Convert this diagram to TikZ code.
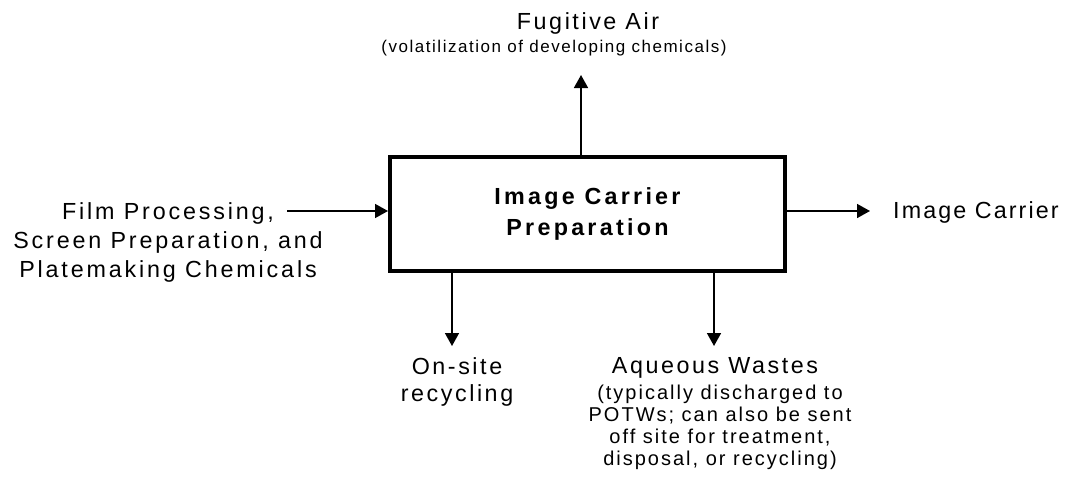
\documentclass[tikz,border=0pt]{standalone}
\usepackage{fontspec}
\setmainfont{Liberation Sans}
\newfontfamily\widesans[LetterSpace=11]{Liberation Sans}
\newfontfamily\widersans[LetterSpace=12.2]{Liberation Sans}
\newfontfamily\tightsans[LetterSpace=9]{Liberation Sans}
\newfontfamily\widesansb[LetterSpace=14]{Liberation Sans}
\newfontfamily\narrowsans[LetterSpace=9]{Liberation Sans}
\newfontfamily\notesans[LetterSpace=10]{Liberation Sans}
\usetikzlibrary{arrows.meta}
\begin{document}
\begin{tikzpicture}[x=1pt,y=-1pt,
  biglabel/.style={font=\widesans\fontsize{23.3}{28}\selectfont, align=center, inner sep=0pt},
  smalllabel/.style={font=\narrowsans\fontsize{17}{22}\selectfont, align=center, inner sep=0pt},
  notelabel/.style={font=\notesans\fontsize{20}{22}\selectfont, align=center, inner sep=0pt},
  processbox/.style={draw, line width=4pt, minimum width=395pt, minimum height=114pt,
    font=\widesansb\bfseries\fontsize{23.3}{31}\selectfont, align=center, inner sep=0pt},
  flow/.style={line width=1.6pt, -{Triangle[length=13pt,width=14pt]}}]
\useasboundingbox (0,0) rectangle (1075,480);

% central process
\node[processbox] (box) at (587.5,214) {Image Carrier\\Preparation};

% emission to air
\node[biglabel] (fug) at (588,23) {Fugitive Air};
\node[smalllabel] (vol) at (554,48.5) {(volatilization of developing chemicals)};
\coordinate (fugtip) at (581,75);
\draw[flow] (box.north -| fugtip) -- (fugtip);

% inputs
\node[biglabel, font=\widersans\fontsize{23.3}{29}\selectfont] (inp) at (168,242)
  {Film Processing,\\Screen Preparation, and\\Platemaking Chemicals};
\coordinate (instart) at (287,211);
\draw[flow] (instart) -- (instart -| box.west);

% product
\node[biglabel, font=\tightsans\fontsize{23.3}{28}\selectfont, anchor=west] (prod) at (893,212) {Image Carrier};
\coordinate (prodtip) at (870,211);
\draw[flow] (box.east |- prodtip) -- (prodtip);

% on-site recycling
\coordinate (rectip) at (452,346);
\draw[flow] (box.south -| rectip) -- (rectip);
\node[biglabel, font=\widesans\fontsize{23.3}{27}\selectfont] (rec) at (457,382) {On-site\\recycling};

% aqueous wastes
\coordinate (aqtip) at (714,346);
\draw[flow] (box.south -| aqtip) -- (aqtip);
\node[biglabel] (aq) at (715,368) {Aqueous Wastes};
\node[notelabel] (aqnote) at (720,427) {(typically discharged to\\POTWs; can also be sent\\off site for treatment,\\disposal, or recycling)};
\end{tikzpicture}
\end{document}
